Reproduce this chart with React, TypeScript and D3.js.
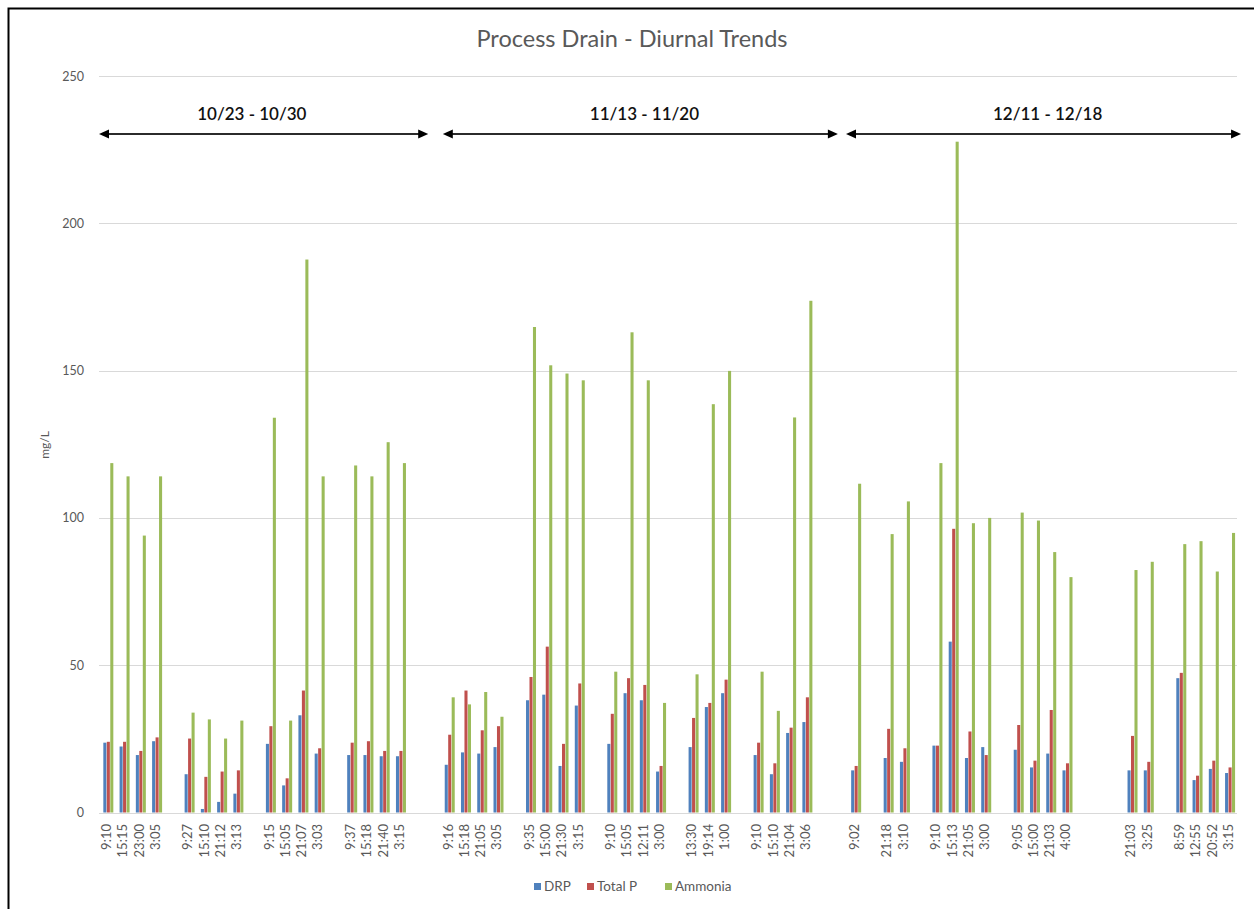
import React from "react";
import * as d3 from "d3";

const slotLabels: string[] = [
  "9:10", "15:15", "23:00", "3:05", "",
  "9:27", "15:10", "21:12", "3:13", "",
  "9:15", "15:05", "21:07", "3:03", "",
  "9:37", "15:18", "21:40", "3:15", "", "",
  "9:16", "15:18", "21:05", "3:05", "",
  "9:35", "15:00", "21:30", "3:15", "",
  "9:10", "15:05", "12:11", "3:00", "",
  "13:30", "19:14", "1:00", "",
  "9:10", "15:10", "21:04", "3:06", "", "",
  "9:02", "", "21:18", "3:10", "",
  "9:10", "15:13", "21:05", "3:00", "",
  "9:05", "15:00", "21:03", "4:00", "", "", "",
  "21:03", "3:25", "",
  "8:59", "12:55", "20:52", "3:15",
];

type V = number | null;
const _ = null;

const drp: V[] = [
  23.7, 22.4, 19.5, 24.2, _,
  13.0, 1.2, 3.6, 6.4, _,
  23.3, 9.2, 33.0, 20.0, _,
  19.5, 19.5, 19.1, 19.1, _, _,
  16.2, 20.4, 20.0, 22.2, _,
  38.1, 40.0, 15.8, 36.3, _,
  23.3, 40.5, 38.1, 13.9, _,
  22.2, 35.8, 40.5, _,
  19.5, 13.0, 27.0, 30.7, _, _,
  14.3, _, 18.5, 17.2, _,
  22.7, 58.0, 18.5, 22.2, _,
  21.3, 15.3, 20.0, 14.3, _, _, _,
  14.3, 14.3, _,
  45.6, 11.0, 14.8, 13.4,
];

const totalP: V[] = [
  24.0, 24.0, 20.9, 25.5, _,
  25.1, 12.1, 13.9, 14.3, _,
  29.3, 11.6, 41.4, 21.8, _,
  23.7, 24.2, 20.9, 20.9, _, _,
  26.4, 41.4, 27.9, 29.3, _,
  46.0, 56.3, 23.3, 43.8, _,
  33.5, 45.6, 43.3, 15.8, _,
  32.1, 37.2, 45.1, _,
  23.7, 16.7, 28.8, 39.1, _, _,
  15.8, _, 28.4, 21.8, _,
  22.7, 96.3, 27.5, 19.5, _,
  29.7, 17.6, 34.8, 16.7, _, _, _,
  26.0, 17.2, _,
  47.4, 12.5, 17.6, 15.3,
];

const ammonia: V[] = [
  118.6, 114.1, 94.0, 114.1, _,
  33.9, 31.6, 25.1, 31.2, _,
  134.0, 31.2, 187.7, 114.1, _,
  117.8, 114.1, 125.7, 118.6, _, _,
  39.1, 36.7, 40.9, 32.5, _,
  164.8, 151.8, 149.0, 146.7, _,
  47.8, 163.0, 146.7, 37.2, _,
  46.9, 138.6, 149.9, _,
  47.8, 34.5, 134.1, 173.7, _, _,
  111.6, _, 94.5, 105.6, _,
  118.6, 227.7, 98.2, 100.0, _,
  101.8, 99.1, 88.4, 79.9, _, _, _,
  82.3, 85.1, _,
  91.1, 92.1, 81.8, 94.9,
];

const seriesNames = ["DRP", "Total P", "Ammonia"];
const seriesColors = ["#4F81BD", "#C0504D", "#9BBB59"];
const yTicks = [0, 50, 100, 150, 200, 250];

// period annotations: label, arrow span (in slot units), label centre (slot units)
const periodLabels = ["10/23 - 10/30", "11/13 - 11/20", "12/11 - 12/18"];
const periodArrowFrom = [0, 21.15, 45.95];
const periodArrowTo = [20.25, 45.45, 70.25];
const periodLabelAt = [9.4, 33.55, 58.35];

const W = 1254;
const H = 909;
const FONT = "Lato, 'Open Sans', sans-serif";
const GRAY = "#595959";

export default function App() {
  const idx = slotLabels.map((_l, i) => String(i));
  const x = d3.scaleBand<string>().domain(idx).range([99, 1237]).padding(0);
  const slot = d3.scaleLinear().domain([0, slotLabels.length]).range(x.range());
  const y = d3.scaleLinear().domain([0, 250]).range([812.5, 76]);
  const groupW = 10;
  const x1 = d3.scaleBand<string>().domain(seriesNames).range([0, groupW]).paddingInner(0.12);
  const series = [drp, totalP, ammonia];
  const arrowY = 134;

  return (
    <svg width={W} height={H} style={{ position: "absolute", left: 0, top: 0, background: "#fff" }}>
      <rect x={0} y={0} width={W} height={H} fill="#fff" />
      {/* outer frame */}
      <rect x={8.5} y={8.5} width={W + 20} height={H + 20} fill="none" stroke="#000" strokeWidth={2} />

      <text x={632} y={47} textAnchor="middle" fontFamily={FONT} fontSize={23.5} fill={GRAY}>
        Process Drain - Diurnal Trends
      </text>

      {/* gridlines */}
      {yTicks.map((t) => (
        <g key={t}>
          <line x1={x.range()[0]} x2={x.range()[1]} y1={Math.round(y(t)) + 0.5} y2={Math.round(y(t)) + 0.5}
            stroke="#D9D9D9" strokeWidth={1} />
          <text x={84} y={y(t) + 4.5} textAnchor="end" fontFamily={FONT} fontSize={12.5} fill={GRAY}>{t}</text>
        </g>
      ))}

      <text transform={`translate(49,${445}) rotate(-90)`} textAnchor="middle" fontFamily={FONT} fontSize={12} fill={GRAY}>
        mg/L
      </text>

      {/* bars */}
      {series.map((vals, si) => (
        <g key={si} fill={seriesColors[si]}>
          {vals.map((v, i) => {
            if (v == null) return null;
            const bx = (x(String(i)) as number) + (x.bandwidth() - groupW) / 2 + 1.2 + (x1(seriesNames[si]) as number);
            return <rect key={i} x={bx} y={y(v)} width={x1.bandwidth()} height={y(0) - y(v)} />;
          })}
        </g>
      ))}

      {/* x labels */}
      {slotLabels.map((l, i) =>
        l ? (
          <text key={i}
            transform={`translate(${(x(String(i)) as number) + x.bandwidth() / 2 + 4},${824}) rotate(-90)`}
            textAnchor="end" fontFamily={FONT} fontSize={13} fill={GRAY}>
            {l}
          </text>
        ) : null
      )}

      {/* period annotations */}
      {periodLabels.map((lab, i) => {
        const a = slot(periodArrowFrom[i]);
        const b = slot(periodArrowTo[i]);
        return (
          <g key={lab}>
            <text x={slot(periodLabelAt[i])} y={120} textAnchor="middle" fontFamily={FONT} fontSize={17} fontWeight={600} fill="#111">
              {lab}
            </text>
            <line x1={a + 8} x2={b - 8} y1={arrowY} y2={arrowY} stroke="#2b2b2b" strokeWidth={2} />
            <path d={`M${a},${arrowY} L${a + 10},${arrowY - 4.5} L${a + 10},${arrowY + 4.5} Z`} fill="#000" />
            <path d={`M${b},${arrowY} L${b - 10},${arrowY - 4.5} L${b - 10},${arrowY + 4.5} Z`} fill="#000" />
          </g>
        );
      })}

      {/* legend */}
      {seriesNames.map((n, i) => {
        const lx = [534, 587, 665][i];
        return (
          <g key={n}>
            <rect x={lx} y={883} width={7} height={7} fill={seriesColors[i]} />
            <text x={lx + 10} y={891} fontFamily={FONT} fontSize={13.5} fill={GRAY}>{n}</text>
          </g>
        );
      })}
    </svg>
  );
}
